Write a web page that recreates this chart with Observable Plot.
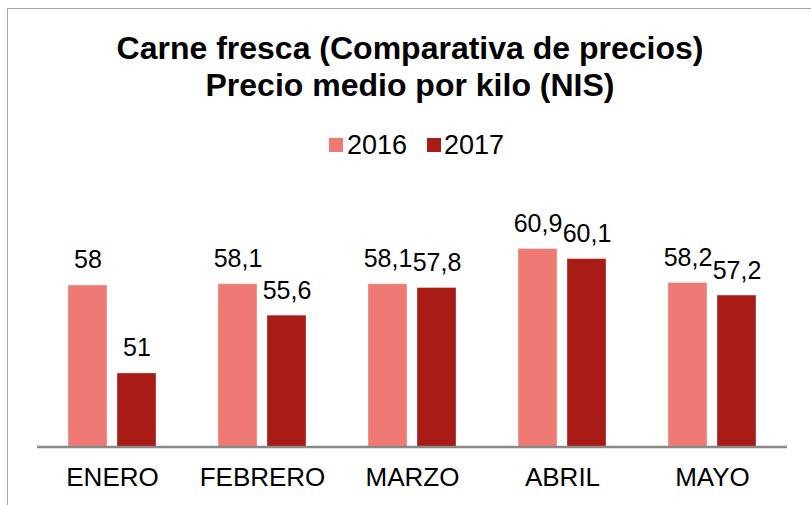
<!DOCTYPE html>
<html>
<head>
<meta charset="utf-8">
<script src="https://cdn.jsdelivr.net/npm/d3@7"></script>
<script src="https://cdn.jsdelivr.net/npm/@observablehq/plot@0.6"></script>
<style>
  html, body { margin: 0; padding: 0; background: #fff; }
  #wrap { position: relative; width: 811px; height: 505px; overflow: hidden; font-family: "Liberation Sans", Arial, sans-serif; }
  #frame { position: absolute; left: 7px; top: 8px; width: 820px; height: 520px; border-left: 1.5px solid #a6a6a6; border-top: 1.5px solid #a6a6a6; }
  #title { position: absolute; left: 0px; width: 820px; top: 30px; text-align: center; font-weight: bold; font-size: 32px; line-height: 37px; color: #000; white-space: nowrap; }
  #legend { position: absolute; top: 130px; left: 0; width: 811px; height: 30px; }
  .sw { position: absolute; top: 8px; width: 14px; height: 14px; }
  .lt { position: absolute; top: 0px; font-size: 27px; line-height: 30px; color: #000; }
  #chart { position: absolute; left: 0; top: 0; }
</style>
</head>
<body>
<div id="wrap">
  <div id="frame"></div>
  <div id="title">Carne fresca (Comparativa de precios)<br>Precio medio por kilo (NIS)</div>
  <div id="legend"></div>
  <div id="chart"></div>
</div>
<script>
const months = ["ENERO", "FEBRERO", "MARZO", "ABRIL", "MAYO"];
const years = ["2016", "2017"];
const values2016 = [58, 58.1, 58.1, 60.9, 58.2];
const values2017 = [51, 55.6, 57.8, 60.1, 57.2];
const colors = ["#EF7A74", "#A91B15"];

const data = [];
months.forEach((m, i) => {
  data.push({month: m, year: years[0], value: values2016[i]});
  data.push({month: m, year: years[1], value: values2017[i]});
});
const fmt = v => String(v).replace(".", ",");

// legend
const legend = document.getElementById("legend");
const legendPos = [{sw: 329, tx: 347}, {sw: 427, tx: 444}];
years.forEach((y, i) => {
  const s = document.createElement("div");
  s.className = "sw"; s.style.left = legendPos[i].sw + "px"; s.style.background = colors[i];
  legend.appendChild(s);
  const t = document.createElement("div");
  t.className = "lt"; t.style.left = legendPos[i].tx + "px"; t.textContent = y;
  legend.appendChild(t);
});

const chart = Plot.plot({
  width: 811,
  height: 505,
  marginLeft: 36,
  marginRight: 23,
  marginBottom: 58.5,
  marginTop: 197,
  style: {fontFamily: "Liberation Sans, Arial, sans-serif", background: "transparent", overflow: "visible"},
  fx: {domain: months, paddingInner: 0, paddingOuter: 0, label: null},
  x: {domain: years, paddingInner: 0.2, paddingOuter: 0.604, axis: null},
  y: {domain: [45.15, 65], axis: null},
  color: {domain: years, range: colors},
  marks: [
    Plot.barY(data, {fx: "month", x: "year", y1: 45.15, y2: "value", fill: "year", stroke: "#ffffff", strokeOpacity: 0.35, strokeWidth: 1}),
    Plot.text(data, {fx: "month", x: "year", y: "value", text: d => fmt(d.value), lineAnchor: "middle", dy: -25, fontSize: 25, fill: "#000"}),
    Plot.ruleY([45.15], {stroke: "#898989", strokeWidth: 2.5}),
    Plot.axisFx({anchor: "bottom", tickSize: 0, tickPadding: 21, fontSize: 26, label: null, fill: "#000"})
  ]
});
document.getElementById("chart").appendChild(chart);
</script>
</body>
</html>
